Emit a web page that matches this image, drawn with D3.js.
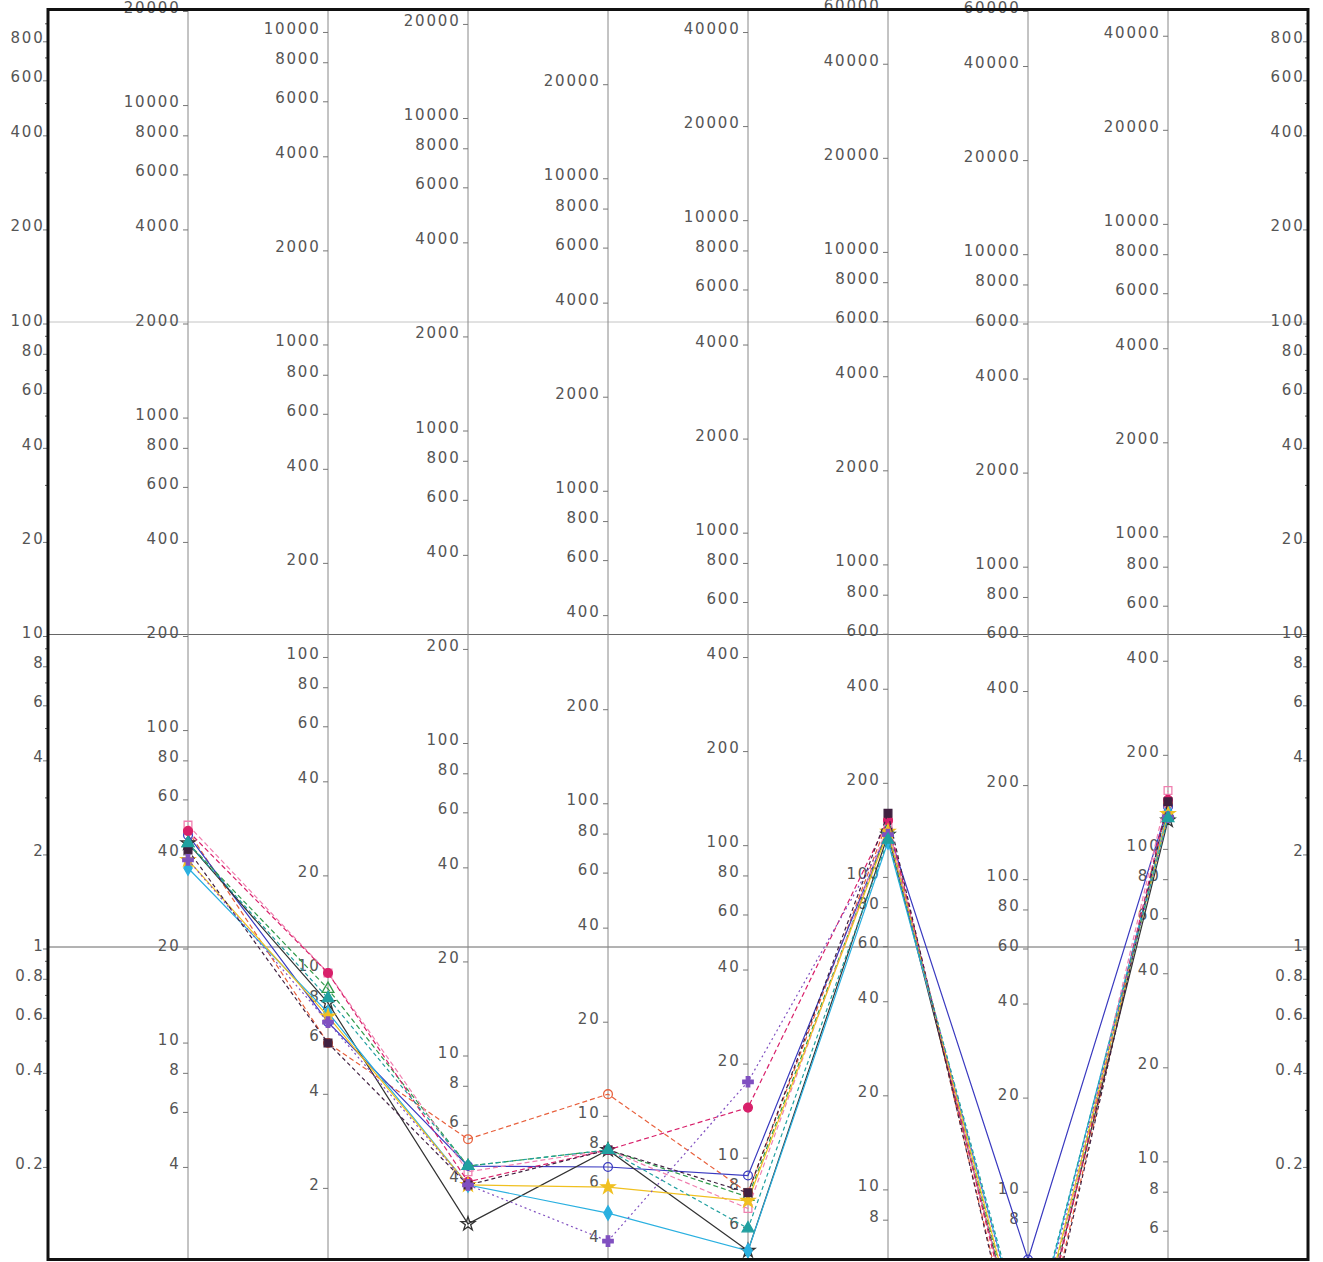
<!DOCTYPE html>
<html><head><meta charset="utf-8">
<script src="https://cdn.jsdelivr.net/npm/d3@7"></script>
<style>html,body{margin:0;padding:0;background:#fff;}svg{display:block;}</style>
</head><body>
<svg id="c" width="1323" height="1262"></svg>
<script>
// bottom value of each vertical axis (each axis spans four decades)
const axisLows = [0.1, 2, 1.167, 2.2, 3.43, 4.67, 5.9, 6.0, 4.8, 0.1];

// tick labels per axis
const ticksOuter = [800,600,400,200,100,80,60,40,20,10,8,6,4,2,1,0.8,0.6,0.4,0.2];
const ticksAx1 = [20000,10000,8000,6000,4000,2000,1000,800,600,400,200,100,80,60,40,20,10,8,6,4];
const ticksAx2 = [10000,8000,6000,4000,2000,1000,800,600,400,200,100,80,60,40,20,10,8,6,4,2];
const ticksAx3 = [20000,10000,8000,6000,4000,2000,1000,800,600,400,200,100,80,60,40,20,10,8,6,4];
const ticksAx4 = [20000,10000,8000,6000,4000,2000,1000,800,600,400,200,100,80,60,40,20,10,8,6,4];
const ticksAx5 = [40000,20000,10000,8000,6000,4000,2000,1000,800,600,400,200,100,80,60,40,20,10,8,6];
const ticksAx6 = [60000,40000,20000,10000,8000,6000,4000,2000,1000,800,600,400,200,100,80,60,40,20,10,8];
const ticksAx7 = [60000,40000,20000,10000,8000,6000,4000,2000,1000,800,600,400,200,100,80,60,40,20,10,8];
const ticksAx8 = [40000,20000,10000,8000,6000,4000,2000,1000,800,600,400,200,100,80,60,40,20,10,8,6];
const axisTicks = [ticksOuter, ticksAx1, ticksAx2, ticksAx3, ticksAx4, ticksAx5, ticksAx6, ticksAx7, ticksAx8, ticksOuter];

// minor ticks on the outer frame axes
const minorOuter = [0.3,0.5,0.7,0.9,3,5,7,9,30,50,70,90,300,500,700,900];

// horizontal reference lines (values on the outer axis)
const gridValues = [1, 10, 100];

// series values on axes 1..8
const s1 = [47, 5.75, 5.34, 11.6, 7.64, 150, 2.0, 138];
const s2 = [45.6, 6.71, 4.38, 6.78, 8.67, 140, 6.0, 135];
const s3 = [43, 7.73, 2.86, 7.69, 4.98, 135, 2.4, 122];
const s4 = [43, 8.57, 4.38, 7.69, 7.4, 140, 2.5, 128];
const s5 = [35.8, 7.2, 3.81, 4.83, 4.98, 128, 2.9, 130];
const s6 = [49.1, 9.64, 4.2, 7.69, 6.8, 145, 2.3, 152];
const s7 = [47, 9.64, 3.9, 7.69, 14.3, 150, 2.2, 142];
const s8 = [38, 7.0, 3.81, 5.85, 7.2, 138, 2.6, 128];
const s9 = [40.9, 5.75, 3.81, 7.69, 7.64, 158, 1.9, 140];
const s10 = [38, 6.71, 3.81, 3.93, 17.3, 135, 2.8, 125];
const s11 = [43, 8.0, 4.38, 7.69, 5.87, 130, 3.0, 124];

(function () {
const seriesList = [
  {v:s1,  color:"#e8603c", dash:"5,3", sym:d3.symbolCircle,   fill:false},
  {v:s2,  color:"#3a3ac0", dash:null,  sym:d3.symbolCircle,   fill:false},
  {v:s3,  color:"#333333", dash:null,  sym:d3.symbolStar,     fill:false},
  {v:s4,  color:"#2f9a4a", dash:"5,3", sym:d3.symbolTriangle, fill:false},
  {v:s5,  color:"#2ab0e0", dash:null,  sym:d3.symbolDiamond,  fill:true},
  {v:s6,  color:"#f080b0", dash:"5,3", sym:d3.symbolSquare,   fill:false},
  {v:s7,  color:"#d8206a", dash:"5,3", sym:d3.symbolCircle,   fill:true},
  {v:s8,  color:"#f0c020", dash:null,  sym:d3.symbolStar,     fill:true},
  {v:s9,  color:"#402040", dash:"4,3", sym:d3.symbolSquare,   fill:true},
  {v:s10, color:"#8050c0", dash:"2,3", sym:d3.symbolCross,    fill:true},
  {v:s11, color:"#20a0a0", dash:"4,3", sym:d3.symbolTriangle, fill:true}
];

const pLeft = 48, pRight = 1308, pTop = 9.5, pBottom = 1259.5;
const svg = d3.select("#c");

const x = d3.scalePoint().domain(d3.range(10)).range([pLeft, pRight]);
const yScales = axisLows.map(lo => d3.scaleLog().domain([lo, lo * 10000]).range([pBottom, pTop]));

// horizontal grid lines
svg.append("g").selectAll("line").data(gridValues).join("line")
  .attr("x1", pLeft).attr("x2", pRight)
  .attr("y1", d => yScales[0](d)).attr("y2", d => yScales[0](d))
  .attr("stroke", d => d === 100 ? "#c4c4c4" : "#666").attr("stroke-width", 1);

// inner vertical axes
svg.append("g").selectAll("line").data(d3.range(1, 9)).join("line")
  .attr("x1", d => x(d)).attr("x2", d => x(d))
  .attr("y1", pTop).attr("y2", pBottom)
  .attr("stroke", "#888").attr("stroke-width", 1);

// minor ticks on outer axes
[0, 9].forEach(i => {
  svg.append("g").selectAll("line").data(minorOuter).join("line")
    .attr("x1", x(i) - 3).attr("x2", x(i))
    .attr("y1", d => yScales[i](d)).attr("y2", d => yScales[i](d))
    .attr("stroke", "#555").attr("stroke-width", 1);
});

// ticks & labels
const fmt = v => (v < 1 ? String(v) : d3.format("d")(v));
axisTicks.forEach((tks, i) => {
  const g = svg.append("g");
  const ax = x(i);
  const outer = (i === 0 || i === 9);
  const textEnd = outer ? ax - 3.5 : ax - 7.5;
  g.selectAll("line").data(tks).join("line")
    .attr("x1", ax - 5).attr("x2", ax)
    .attr("y1", d => yScales[i](d) + 2).attr("y2", d => yScales[i](d) + 2)
    .attr("stroke", "#777").attr("stroke-width", 1);
  g.selectAll("text").data(tks).join("text")
    .attr("x", textEnd)
    .attr("y", d => yScales[i](d) + 3.5)
    .attr("text-anchor", "end")
    .attr("font-family", "DejaVu Sans")
    .attr("font-size", 15)
    .attr("letter-spacing", "1.8px")
    .attr("fill", "#555")
    .text(fmt);
});

// clip
svg.append("clipPath").attr("id", "plotclip").append("rect")
  .attr("x", pLeft).attr("y", pTop).attr("width", pRight - pLeft).attr("height", pBottom - pTop);

const plot = svg.append("g").attr("clip-path", "url(#plotclip)");
const line = d3.line().x(d => x(d.i)).y(d => yScales[d.i](d.v));

seriesList.forEach(s => {
  const pts = s.v.map((v, k) => ({i: k + 1, v}));
  plot.append("path").datum(pts)
    .attr("d", line)
    .attr("fill", "none")
    .attr("stroke", s.color)
    .attr("stroke-width", 1.2)
    .attr("stroke-dasharray", s.dash);
  plot.append("g").selectAll("path").data(pts).join("path")
    .attr("transform", d => `translate(${x(d.i)},${yScales[d.i](d.v)})`)
    .attr("d", d3.symbol().type(s.sym).size(60))
    .attr("fill", s.fill ? s.color : "none")
    .attr("stroke", s.color)
    .attr("stroke-width", 1.3);
});

// frame
svg.append("rect")
  .attr("x", pLeft).attr("y", pTop).attr("width", pRight - pLeft).attr("height", pBottom - pTop)
  .attr("fill", "none").attr("stroke", "#111").attr("stroke-width", 3);
})();
</script>
</body></html>
